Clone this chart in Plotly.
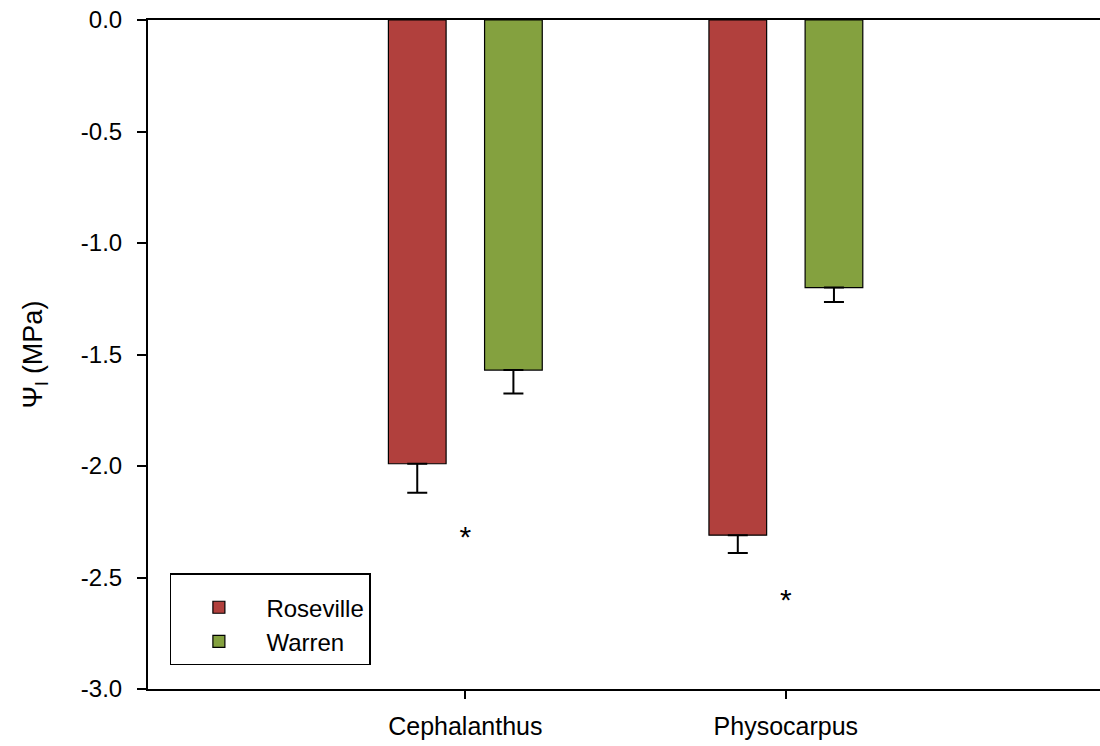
import plotly.graph_objects as go

categories = ["Cephalanthus", "Physocarpus"]
roseville = [-1.99, -2.31]
roseville_se = [0.13, 0.08]
warren = [-1.57, -1.20]
warren_se = [0.105, 0.065]
star_y = [-2.33, -2.61]
y_ticks = [0.0, -0.5, -1.0, -1.5, -2.0, -2.5, -3.0]
y_tick_labels = ["0.0", "-0.5", "-1.0", "-1.5", "-2.0", "-2.5", "-3.0"]

FONT = "Liberation Sans, Arial, sans-serif"

fig = go.Figure()
fig.add_trace(go.Bar(
    name="Roseville", x=categories, y=roseville,
    marker=dict(color="#B1403D", line=dict(color="black", width=1.2)),
    error_y=dict(type="data", symmetric=False, array=[0, 0], arrayminus=roseville_se,
                 color="black", thickness=2, width=10),
))
fig.add_trace(go.Bar(
    name="Warren", x=categories, y=warren,
    marker=dict(color="#84A13F", line=dict(color="black", width=1.2)),
    error_y=dict(type="data", symmetric=False, array=[0, 0], arrayminus=warren_se,
                 color="black", thickness=2, width=10),
))
fig.add_trace(go.Scatter(
    x=categories, y=star_y, mode="text", text=["*", "*"],
    textfont=dict(family=FONT, size=30, color="black"),
    showlegend=False, hoverinfo="skip",
))

fig.update_layout(
    width=1100, height=746,
    margin=dict(l=148, r=0, t=20, b=57),
    paper_bgcolor="white", plot_bgcolor="white",
    barmode="group", bargap=0.4, bargroupgap=0.4,
    font=dict(family=FONT, size=24, color="black"),
    showlegend=True,
    legend=dict(
        x=0.023, y=0.173, xanchor="left", yanchor="top",
        bordercolor="black", borderwidth=1.5, bgcolor="white",
        font=dict(family=FONT, size=24),
        itemwidth=85, tracegroupgap=0,
        title=dict(text=" ", font=dict(size=8)),
    ),
    xaxis=dict(
        type="category", range=[-0.99, 1.98],
        showline=True, linecolor="black", linewidth=2, mirror=True,
        ticks="outside", ticklen=8, tickwidth=1.5, tickcolor="black",
        showgrid=False, zeroline=False, ticklabelstandoff=6,
        tickfont=dict(family=FONT, size=25),
    ),
    yaxis=dict(
        range=[-3.0, 0.0], tickvals=y_ticks, ticktext=y_tick_labels,
        showline=True, linecolor="black", linewidth=2,
        ticks="outside", ticklen=9, tickwidth=1.5, tickcolor="black",
        showgrid=False, zeroline=False, ticklabelstandoff=10,
        tickfont=dict(family=FONT, size=24),
        title=dict(text="Ψ<sub>l</sub> (MPa)", font=dict(family=FONT, size=27), standoff=30),
    ),
)

fig.write_html("out.html")
